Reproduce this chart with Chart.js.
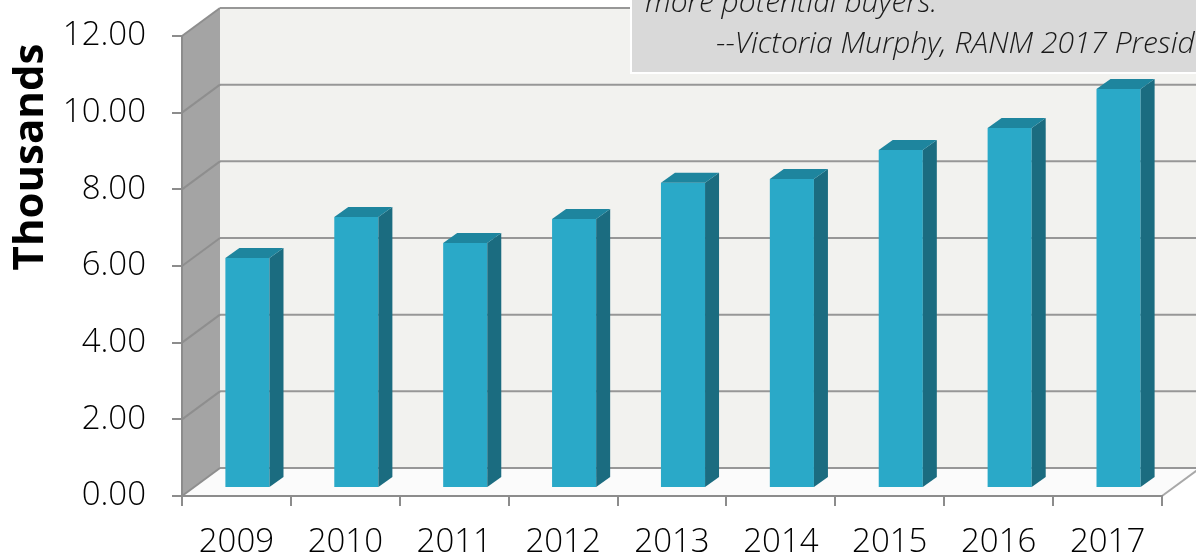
<!DOCTYPE html>
<html>
<head>
<meta charset="utf-8">
<title>Sales</title>
<script src="https://cdn.jsdelivr.net/npm/chart.js@4.4.1/dist/chart.umd.min.js"></script>
<style>
  html, body { margin: 0; padding: 0; background: #fff; }
  #wrap { width: 1196px; height: 560px; }
</style>
</head>
<body>
<div id="wrap"><canvas id="myChart"></canvas></div>
<script>
// values, in thousands
var years = ['2009', '2010', '2011', '2012', '2013', '2014', '2015', '2016', '2017'];
var sales = [6.00, 7.07, 6.39, 7.02, 7.96, 8.06, 8.82, 9.39, 10.41];
var yTicks = [0, 2, 4, 6, 8, 10, 12];
var yTitle = 'Thousands';
var quoteLines = ['more potential buyers.', '--Victoria Murphy, RANM 2017 President'];

// fake 3d: depth of the floor and of the bars
var DX = 38, DY = -28;
var BAR_DX = 11, BAR_DY = -8;
var BAR_DEPTH_X = 14, BAR_DEPTH_Y = -10;

function poly(ctx, pts, fill) {
    ctx.beginPath();
    ctx.moveTo(pts[0][0], pts[0][1]);
    for (var i = 1; i < pts.length; i++) ctx.lineTo(pts[i][0], pts[i][1]);
    ctx.closePath();
    ctx.fillStyle = fill;
    ctx.fill();
}

function line(ctx, x1, y1, x2, y2) {
    ctx.beginPath();
    ctx.moveTo(x1, y1);
    ctx.lineTo(x2, y2);
    ctx.stroke();
}

var box3d = {
    id: 'box3d',
    beforeDraw(chart) {
        var ctx = chart.ctx, a = chart.chartArea, y = chart.scales.y;
        var top = y.getPixelForValue(y.max), bot = y.getPixelForValue(0);
        ctx.save();
        ctx.fillStyle = '#fff';
        ctx.fillRect(0, 0, chart.width, chart.height);

        // back wall
        ctx.fillStyle = '#f2f2ef';
        ctx.fillRect(a.left + DX, top + DY, a.right - a.left, bot - top);
        // left wall
        poly(ctx, [[a.left, top], [a.left + DX, top + DY], [a.left + DX, bot + DY], [a.left, bot]], '#a4a4a4');
        // floor
        poly(ctx, [[a.left, bot], [a.right, bot], [a.right + DX, bot + DY], [a.left + DX, bot + DY]], '#fbfbfb');

        ctx.lineWidth = 2;
        yTicks.forEach(function (v) {
            var py = y.getPixelForValue(v);
            ctx.strokeStyle = '#979797';
            line(ctx, a.left + DX, py + DY, a.right + DX, py + DY);
            ctx.strokeStyle = '#8e8e8e';
            line(ctx, a.left, py, a.left + DX, py + DY);
        });
        ctx.strokeStyle = '#a8a8a8';
        line(ctx, a.right, bot, a.right + DX, bot + DY);

        // axis title, drawn by hand so it sits where excel put it
        ctx.translate(43, 157);
        ctx.rotate(-Math.PI / 2);
        ctx.fillStyle = '#000';
        ctx.font = 'bold 42px "Open Sans"';
        ctx.textAlign = 'center';
        ctx.textBaseline = 'alphabetic';
        ctx.fillText(yTitle, 0, 0);
        ctx.restore();
    },
    beforeDatasetsDraw(chart) {
        chart.ctx.save();
        chart.ctx.translate(BAR_DX, BAR_DY);
    },
    afterDatasetsDraw(chart) {
        var ctx = chart.ctx;
        chart.getDatasetMeta(0).data.forEach(function (bar) {
            var p = bar.getProps(['x', 'y', 'base', 'width'], true);
            var l = p.x - p.width / 2, r = p.x + p.width / 2;
            // side face
            poly(ctx, [[r, p.y], [r + BAR_DEPTH_X, p.y + BAR_DEPTH_Y], [r + BAR_DEPTH_X, p.base + BAR_DEPTH_Y], [r, p.base]], '#1b6c80');
            // top face
            poly(ctx, [[l, p.y], [r, p.y], [r + BAR_DEPTH_X, p.y + BAR_DEPTH_Y], [l + BAR_DEPTH_X, p.y + BAR_DEPTH_Y]], '#1e859e');
        });
        ctx.restore();
    },
    afterDraw(chart) {
        var ctx = chart.ctx;
        ctx.save();
        ctx.fillStyle = '#fff';
        ctx.fillRect(630, -2, 600, 76);
        ctx.fillStyle = '#d9d9d9';
        ctx.fillRect(632, -2, 600, 74);
        ctx.fillStyle = '#1a1a1a';
        ctx.font = 'italic 300 30px "Open Sans"';
        ctx.textBaseline = 'alphabetic';
        ctx.fillText(quoteLines[0], 645, 12);
        ctx.fillText(quoteLines[1], 716, 53);
        ctx.restore();
    }
};

var axisGray = '#8c8c8c';
var tickFont = { family: 'Open Sans', size: 33, weight: 300 };

var ctx = document.getElementById('myChart').getContext('2d');
var myChart = new Chart(ctx, {
    type: 'bar',
    data: {
        labels: years,
        datasets: [{
            data: sales,
            backgroundColor: '#2aa9c8',
            borderWidth: 0,
            categoryPercentage: 1,
            barPercentage: 0.405
        }]
    },
    options: {
        responsive: true,
        maintainAspectRatio: false,
        animation: false,
        layout: { padding: { top: 36, right: 34, left: 0, bottom: 0 } },
        plugins: {
            legend: { display: false },
            tooltip: { enabled: false }
        },
        scales: {
            x: {
                afterFit: function (s) { s.height = 64; s.paddingLeft = 0; s.paddingRight = 0; },
                ticks: { color: '#000', font: tickFont, padding: 17 },
                grid: { offset: true, drawOnChartArea: false, tickLength: 10, color: axisGray, lineWidth: 2 },
                border: { color: axisGray, width: 2 }
            },
            y: {
                min: 0,
                max: 12,
                afterBuildTicks: function (s) { s.ticks = yTicks.map(function (v) { return { value: v }; }); },
                afterFit: function (s) { s.width = 182; s.paddingTop = 0; s.paddingBottom = 0; },
                ticks: {
                    color: '#000',
                    font: tickFont,
                    padding: 26,
                    callback: function (v) { return Number(v).toFixed(2); }
                },
                grid: { drawOnChartArea: false, tickLength: 10, color: axisGray, lineWidth: 2 },
                border: { color: axisGray, width: 2 }
            }
        }
    },
    plugins: [box3d]
});
</script>
</body>
</html>
